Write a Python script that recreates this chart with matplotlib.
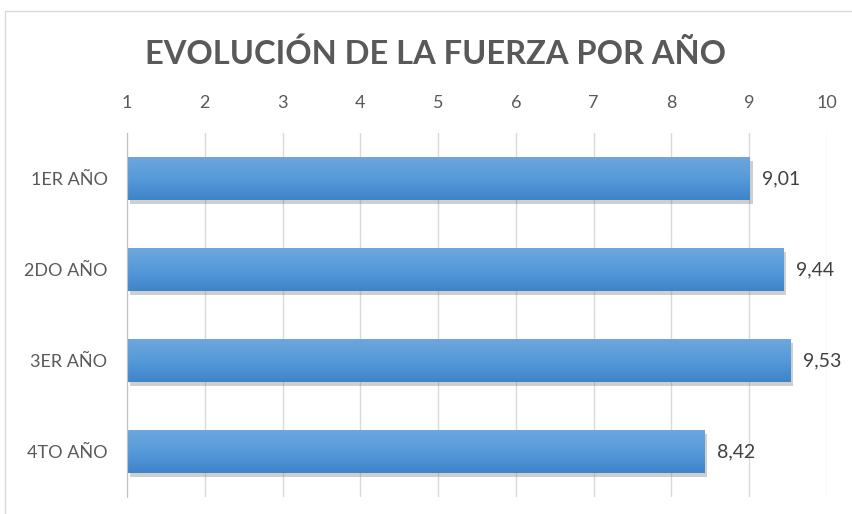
import numpy as np
import matplotlib.pyplot as plt
import matplotlib.patheffects as pe
from matplotlib.patches import Rectangle
from matplotlib.colors import LinearSegmentedColormap

# datos
categorias = ["1ER AÑO", "2DO AÑO", "3ER AÑO", "4TO AÑO"]
valores = [9.01, 9.44, 9.53, 8.42]
ticks_x = [1, 2, 3, 4, 5, 6, 7, 8, 9, 10]

plt.rcParams['font.family'] = ['Lato', 'DejaVu Sans']

fig = plt.figure(figsize=(8.53, 5.14), dpi=100)
ax = fig.add_axes([127/853, 1-497/514, 700/853, 364/514])

y = np.arange(len(categorias))
barras = ax.barh(y, [v - 1 for v in valores], left=1, height=0.47,
                 color="#5b9bd5", zorder=3)
for b in barras:
    b.set_path_effects([pe.SimplePatchShadow(offset=(2, -3), shadow_rgbFace="#777777", alpha=0.35),
                        pe.Normal()])

# degradado vertical en cada barra
grad = np.linspace(0, 1, 100).reshape(-1, 1)
cmap = LinearSegmentedColormap.from_list("azul", ["#6ea6dd", "#559ada", "#3f84c9"])
for b in barras:
    x0, y0 = b.get_x(), b.get_y()
    im = ax.imshow(grad, cmap=cmap, aspect="auto", zorder=4,
                   extent=[x0, x0 + b.get_width(), y0 + b.get_height(), y0],
                   origin="upper")
    im.set_clip_path(b)

for yi, v in zip(y, valores):
    ax.text(v + 0.16, yi, f"{v:.2f}".replace(".", ","), va="center", ha="left",
            fontsize=14, color="#404040")

ax.set_xlim(1, 10)
ax.set_ylim(len(categorias) - 0.5, -0.5)
ax.set_xticks(ticks_x)
ax.xaxis.tick_top()
ax.set_yticks(y)
ax.set_yticklabels(categorias)
ax.tick_params(axis="x", length=0, pad=16, labelsize=13, labelcolor="#595959")
ax.tick_params(axis="y", length=0, pad=14, labelsize=13, labelcolor="#595959")
ax.grid(axis="x", color="#d9d9d9", linewidth=1, zorder=0)
for s in ["top", "right", "bottom"]:
    ax.spines[s].set_visible(False)
ax.spines["left"].set_color("#bfbfbf")
ax.spines["left"].set_zorder(5)

fig.text(436/853, 1-54/514, "EVOLUCIÓN DE LA FUERZA POR AÑO", ha="center", va="center",
         fontsize=23.5, fontweight="bold", color="#595959")

# marco del gráfico
fig.patches.append(Rectangle((5/853, -0.1), 1.0, 1-11/514+0.1, transform=fig.transFigure,
                             fill=False, edgecolor="#d9d9d9", linewidth=1))

fig.savefig("out.png", dpi=100)
